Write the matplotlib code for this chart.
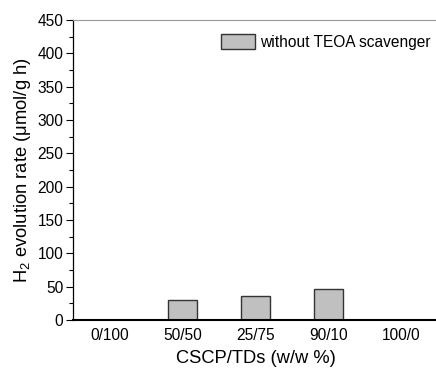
import matplotlib
matplotlib.use("Agg")
import matplotlib.pyplot as plt
from matplotlib.ticker import MultipleLocator

categories = ["0/100", "50/50", "25/75", "90/10", "100/0"]
values = [0, 30, 36, 47, 0]
series_label = "without TEOA scavenger"

plt.rcParams['font.family'] = ['Liberation Sans', 'DejaVu Sans']
plt.rcParams['mathtext.fontset'] = 'custom'
plt.rcParams['mathtext.rm'] = 'Liberation Sans'
plt.rcParams['mathtext.it'] = 'Liberation Sans:italic'

fig = plt.figure(figsize=(4.36, 3.72), dpi=100)
ax = fig.add_axes([73/436, 52/372, 365/436, 300/372])

x = list(range(len(categories)))
ax.bar(x, values, width=0.4, color="#c0c0c0", edgecolor="#333333", linewidth=1.0,
       label=series_label)

ax.set_xlim(-0.5, 4.5)
ax.set_ylim(0, 450)
ax.set_xticks(x)
ax.set_xticklabels(categories, fontsize=11.2)
ax.tick_params(axis='x', length=0, pad=6)
ax.yaxis.set_major_locator(MultipleLocator(50))
ax.yaxis.set_minor_locator(MultipleLocator(25))
ax.tick_params(axis='y', which='major', direction='out', length=5, width=0.8, labelsize=11.2, pad=2)
ax.tick_params(axis='y', which='minor', direction='out', length=3, width=0.8)

ax.spines['bottom'].set_linewidth(1.5)
ax.spines['left'].set_linewidth(0.9)
ax.spines['top'].set_color('#999999')
ax.spines['top'].set_linewidth(0.8)
ax.spines['right'].set_visible(False)

ax.set_xlabel("CSCP/TDs (w/w %)", fontsize=13.2, labelpad=5)
ax.set_ylabel("H$_2$ evolution rate (μmol/g h)", fontsize=13.2, labelpad=3)

leg = ax.legend(loc='upper right', bbox_to_anchor=(1.005, 0.985), frameon=False,
                fontsize=11.2, handlelength=2.2, handleheight=1.1, handletextpad=0.3,
                borderaxespad=0.2)

fig.savefig("out.png", dpi=100)
